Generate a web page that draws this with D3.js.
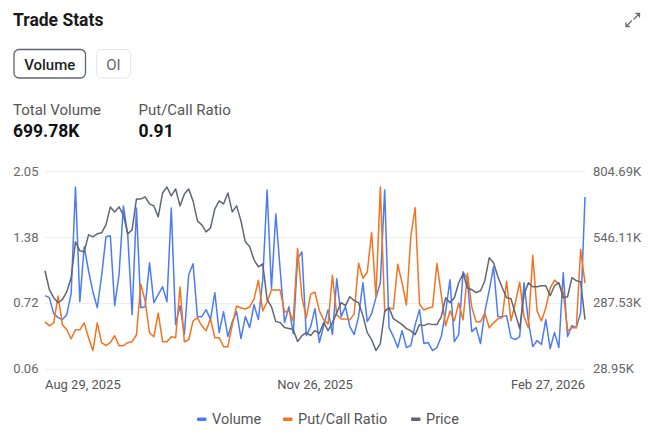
<!DOCTYPE html>
<html><head><meta charset="utf-8">
<script src="https://cdn.jsdelivr.net/npm/d3@7"></script>
<style>
html,body{margin:0;padding:0;background:#fff;}
svg{display:block;font-family:Roboto,"Noto Sans",sans-serif;}
</style></head>
<body><svg id="chart" width="655" height="439"></svg>
<script>
// ---- data ----
const xTickLabels = ["Aug 29, 2025", "Nov 26, 2025", "Feb 27, 2026"];
const xTickIndex = [0, 62, 124];
const leftTickLabels = ["0.06", "0.72", "1.38", "2.05"];
const rightTickLabels = ["28.95K", "287.53K", "546.11K", "804.69K"];
const ratioDomain = [0.06, 2.05];
const volumeDomainK = [28.95, 804.69];
const priceDomain = [20, 39.8];
const seriesNames = ["Volume", "Put/Call Ratio", "Price"];

const volumeK = [
 315.0, 307.2, 244.4, 228.8, 221.0, 240.5, 322.8, 742.0, 291.5, 507.0,
 412.9, 330.6, 267.9, 393.3, 546.1, 550.0, 275.8, 397.2, 667.6, 554.0,
 240.5, 659.7, 267.9, 271.9, 444.3, 287.5, 318.9, 350.2, 291.5, 659.7,
 201.3, 275.8, 162.2, 397.2, 440.3, 232.7, 232.7, 260.1, 221.0, 326.7,
 170.0, 252.3, 154.3, 213.1, 252.3, 146.5, 232.7, 189.6, 279.7, 221.0,
 377.7, 730.3, 342.4, 636.2, 416.8, 209.2, 271.9, 166.1, 459.9, 487.4,
 158.2, 193.5, 264.0, 130.8, 197.4, 260.1, 162.2, 381.6, 232.7, 271.9,
 193.5, 162.2, 232.7, 365.9, 213.1, 244.4, 307.2, 365.9, 730.3, 189.6,
 154.3, 111.2, 177.8, 111.2, 119.1, 201.3, 260.1, 126.9, 130.8, 99.5,
 111.2, 154.3, 252.3, 377.7, 134.7, 162.2, 409.0, 377.7, 173.9, 189.6,
 126.9, 252.3, 334.5, 428.6, 232.7, 232.7, 236.6, 150.4, 142.6,
 154.3, 365.9, 213.1, 115.1, 138.7, 123.0, 221.0, 107.3, 170.0, 111.2,
 405.1, 154.3, 197.4, 189.6, 248.4, 702.8
];
const putCallRatio = [
 0.53, 0.49, 0.52, 0.79, 0.50, 0.45, 0.36, 0.45, 0.45, 0.52,
 0.37, 0.24, 0.52, 0.32, 0.29, 0.32, 0.39, 0.29, 0.29, 0.32,
 0.33, 0.40, 0.91, 0.74, 0.42, 0.38, 0.62, 0.33, 0.33, 0.38,
 0.37, 0.88, 0.33, 0.35, 0.54, 0.57, 0.49, 0.44, 0.56, 0.37,
 0.37, 0.28, 0.28, 0.50, 0.69, 0.67, 0.66, 0.68, 0.76, 0.95,
 0.64, 0.73, 0.85, 0.85, 0.85, 0.63, 0.64, 0.54, 1.27, 0.78,
 0.57, 0.81, 0.83, 0.64, 0.55, 0.51, 1.00, 0.60, 0.56, 0.56,
 0.55, 0.61, 1.12, 0.97, 1.03, 1.43, 0.78, 1.89, 0.64, 0.67,
 0.66, 1.11, 0.92, 0.70, 1.39, 1.68, 0.71, 0.65, 0.67, 0.68,
 1.12, 0.80, 0.49, 0.64, 0.54, 0.72, 0.55, 1.02, 0.68,
 0.53, 0.53, 0.62, 0.47, 0.52, 0.56, 0.57, 0.94, 0.54, 0.72,
 0.93, 0.58, 0.47, 1.20, 0.64, 0.54, 0.67, 0.87, 0.95, 0.91,
 0.83, 0.44, 0.47, 0.47, 1.26, 0.92
];
const price = [
 29.8, 27.9, 27.1, 26.6, 26.9, 27.7, 29.1, 32.7, 31.8, 31.7,
 33.4, 33.2, 33.5, 33.6, 34.4, 36.2, 35.7, 36.2, 35.4, 33.5,
 33.9, 37.0, 37.0, 37.2, 36.5, 36.3, 35.2, 37.6, 38.2, 37.3,
 38.0, 36.3, 37.5, 38.0, 36.8, 34.8, 34.4, 33.7, 34.1, 36.0,
 36.8, 36.5, 37.6, 35.7, 36.3, 34.8, 32.7, 32.2, 30.9, 30.2,
 30.5, 26.9, 26.2, 24.7, 24.6, 24.1, 24.0, 23.9, 22.7, 23.3,
 23.6, 23.3, 23.8, 23.5, 24.6, 23.8, 24.6, 25.6, 26.6, 26.3,
 27.2, 26.8, 26.6, 25.3, 23.6, 22.9, 21.8, 22.5, 25.7,
 26.1, 25.0, 24.7, 24.4, 24.0, 23.8, 23.4, 24.4, 24.3, 24.5,
 24.4, 24.4, 25.2, 27.1, 26.6, 27.1, 28.6, 29.5, 28.1, 27.9,
 27.6, 27.8, 28.8, 31.1, 30.6, 29.2, 28.1, 27.1, 27.0, 25.5,
 24.0, 27.4, 28.6, 28.2, 28.2, 28.3, 28.3, 27.3, 28.3, 28.6,
 27.1, 27.2, 29.1, 28.8, 28.7, 24.9
];

// ---- styles ----
const COLORS = {vol: "#4b7bf5", ratio: "#f4731f", price: "#5f6675"};
const svg = d3.select("#chart");

// ---- header ----
svg.append("text").attr("x", 13).attr("y", 26).attr("font-size", 17.5).attr("font-weight", 700)
  .attr("fill", "#1a1a1a").text("Trade Stats");

// expand icon
const ic = svg.append("g").attr("fill", "none").attr("stroke", "#6b6b6b").attr("stroke-width", 1.3)
  .attr("stroke-linecap", "round");
ic.append("path").attr("d", "M634,19 L639.5,13.5 M636,13.5 L639.5,13.5 L639.5,17");
ic.append("path").attr("d", "M631.5,21 L626,26.5 M626,23 L626,26.5 L629.5,26.5");

// toggle buttons
svg.append("rect").attr("x", 14).attr("y", 49.5).attr("width", 71.5).attr("height", 28.5).attr("rx", 5)
  .attr("fill", "#fff").attr("stroke", "#5d6470").attr("stroke-width", 1.3);
svg.append("text").attr("x", 49.7).attr("y", 69.5).attr("text-anchor", "middle").attr("font-size", 15)
  .attr("font-weight", 500).attr("fill", "#1f1f1f").text("Volume");
svg.append("rect").attr("x", 96.5).attr("y", 49.5).attr("width", 34).attr("height", 28.5).attr("rx", 5)
  .attr("fill", "#fff").attr("stroke", "#e6e6e6").attr("stroke-width", 1);
svg.append("text").attr("x", 113.5).attr("y", 69.5).attr("text-anchor", "middle").attr("font-size", 15)
  .attr("fill", "#666").text("OI");

// stats
svg.append("text").attr("x", 13).attr("y", 115).attr("font-size", 15).attr("fill", "#555").text("Total Volume");
svg.append("text").attr("x", 13).attr("y", 137).attr("font-size", 17.5).attr("font-weight", 700).attr("fill", "#111").text("699.78K");
svg.append("text").attr("x", 138.5).attr("y", 115).attr("font-size", 15).attr("fill", "#555").text("Put/Call Ratio");
svg.append("text").attr("x", 138.5).attr("y", 137).attr("font-size", 17.5).attr("font-weight", 700).attr("fill", "#111").text("0.91");

// ---- chart ----
const X0 = 45, X1 = 585, YT = 171, YB = 368.5;
const N = volumeK.length;
const x = d3.scaleLinear().domain([0, N - 1]).range([X0, X1]);
const yRatio = d3.scaleLinear().domain(ratioDomain).range([YB, YT]);
const yVol = d3.scaleLinear().domain(volumeDomainK).range([YB, YT]);
const yPrice = d3.scaleLinear().domain(priceDomain).range([YB, YT]);

const nTicks = leftTickLabels.length;
const ratioTicks = d3.range(nTicks).map(k => ratioDomain[0] + k * (ratioDomain[1] - ratioDomain[0]) / (nTicks - 1));
const volTicks = d3.range(nTicks).map(k => volumeDomainK[0] + k * (volumeDomainK[1] - volumeDomainK[0]) / (nTicks - 1));

// grid
svg.append("g").selectAll("line").data(ratioTicks).join("line")
  .attr("x1", X0).attr("x2", X1)
  .attr("y1", d => Math.round(yRatio(d)) + 0.5).attr("y2", d => Math.round(yRatio(d)) + 0.5)
  .attr("stroke", "#eeeeee").attr("stroke-width", 1);

// left axis
const leftAxis = d3.axisLeft(yRatio).tickValues(ratioTicks).tickSize(0).tickPadding(0)
  .tickFormat((d, i) => leftTickLabels[i]);
const gl = svg.append("g").attr("transform", `translate(38.5,0)`).call(leftAxis);
gl.select(".domain").remove();
gl.selectAll("text").attr("font-size", 13).attr("fill", "#666").attr("font-family", "Roboto");

// right axis
const rightAxis = d3.axisRight(yVol).tickValues(volTicks).tickSize(0).tickPadding(0)
  .tickFormat((d, i) => rightTickLabels[i]);
const gr = svg.append("g").attr("transform", `translate(593,0)`).call(rightAxis);
gr.select(".domain").remove();
gr.selectAll("text").attr("font-size", 13).attr("fill", "#666").attr("font-family", "Roboto");

// x labels
svg.append("g").selectAll("text").data(xTickLabels).join("text")
  .attr("x", (d, i) => x(xTickIndex[i]))
  .attr("y", 389)
  .attr("text-anchor", (d, i) => i === 0 ? "start" : (i === xTickLabels.length - 1 ? "end" : "middle"))
  .attr("font-size", 13).attr("fill", "#555").text(d => d);

// lines
const lineGen = (scale) => d3.line().x((d, i) => x(i)).y(d => scale(d)).curve(d3.curveLinear);
const series = [
  {name: seriesNames[0], data: volumeK, scale: yVol, color: COLORS.vol},
  {name: seriesNames[1], data: putCallRatio, scale: yRatio, color: COLORS.ratio},
  {name: seriesNames[2], data: price, scale: yPrice, color: COLORS.price}
];
svg.append("g").selectAll("path").data(series).join("path")
  .attr("d", s => lineGen(s.scale)(s.data))
  .attr("fill", "none").attr("stroke", s => s.color).attr("stroke-width", 1.5)
  .attr("stroke-linejoin", "round");

// legend
const legendX = [197, 283, 411];
const lg = svg.append("g").selectAll("g").data(series).join("g")
  .attr("transform", (s, i) => `translate(${legendX[i]},419)`);
lg.append("rect").attr("x", 0).attr("y", -1.5).attr("width", 9.5).attr("height", 3.5).attr("rx", 1)
  .attr("fill", s => s.color);
lg.append("text").attr("x", 15).attr("y", 5).attr("font-size", 14.5).attr("fill", "#555").text(s => s.name);
</script>
</body></html>
